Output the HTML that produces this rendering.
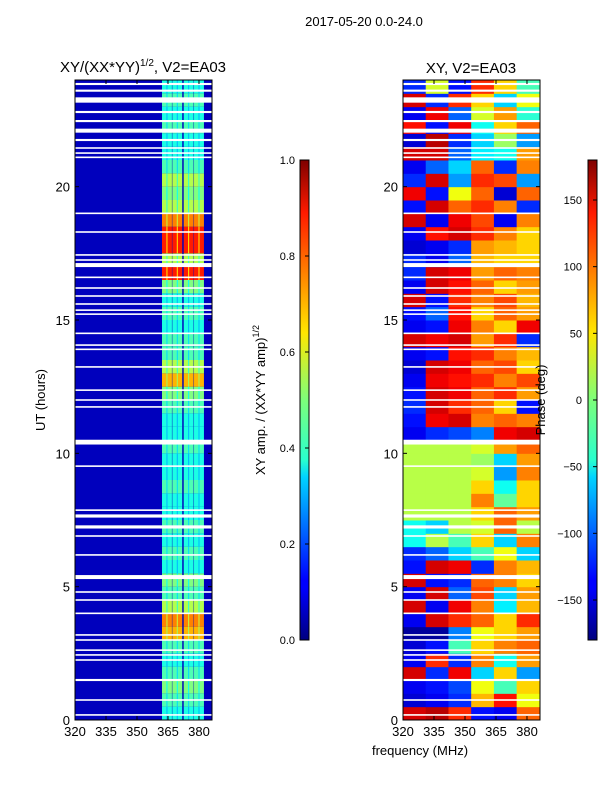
<!DOCTYPE html>
<html><head><meta charset="utf-8"><style>
body{margin:0;background:#fff;}
svg text{font-family:"Liberation Sans","DejaVu Sans",sans-serif;fill:#000;}
</style></head><body>
<svg id="fig" width="600" height="800" viewBox="0 0 600 800" xmlns="http://www.w3.org/2000/svg">
<defs>
<linearGradient id="jet" x1="0" y1="1" x2="0" y2="0">
<stop offset="0" stop-color="#00007f"/><stop offset="0.11" stop-color="#0000ff"/><stop offset="0.125" stop-color="#0000ff"/><stop offset="0.34" stop-color="#00d4ff"/><stop offset="0.375" stop-color="#29ffce"/><stop offset="0.5" stop-color="#7dff7a"/><stop offset="0.64" stop-color="#ffe600"/><stop offset="0.66" stop-color="#ffd700"/><stop offset="0.89" stop-color="#ff1a00"/><stop offset="1" stop-color="#7f0000"/>
</linearGradient>
</defs>
<text x="364" y="26" font-size="13" text-anchor="middle">2017-05-20 0.0-24.0</text>
<text x="143" y="72" font-size="15" text-anchor="middle">XY/(XX*YY)<tspan font-size="10" dy="-6">1/2</tspan><tspan dy="6">, V2=EA03</tspan></text>
<text x="471" y="73" font-size="15" text-anchor="middle">XY, V2=EA03</text>
<g id="left"></g>
<g id="right"></g>
<g id="axes"></g>
<text x="45" y="400" font-size="13" text-anchor="middle" transform="rotate(-90 45 400)">UT (hours)</text>
<text x="420" y="755" font-size="13" text-anchor="middle">frequency (MHz)</text>
<rect x="300" y="160" width="9" height="480" fill="url(#jet)" stroke="#000" stroke-width="1"/>
<rect x="588" y="160" width="9" height="480" fill="url(#jet)" stroke="#000" stroke-width="1"/>
<text x="265" y="400" font-size="13" text-anchor="middle" transform="rotate(-90 265 400)">XY amp. / (XX*YY amp)<tspan font-size="9" dy="-6">1/2</tspan></text>
<text x="545" y="400" font-size="13" text-anchor="middle" transform="rotate(-90 545 400)">Phase (deg)</text>
<g id="cb"></g>
</svg>
<script>
const NS="http://www.w3.org/2000/svg";
// amplitude stripes (MHz centers), half-hour bins from 0h upward
const stripeCenters=[364.5,369.5,375,380];
const stripeAmp=[0.4,0.45,0.5,0.45,0.4,0.45,0.7,0.75,0.55,0.45,0.5,0.4,0.45,0.4,0.45,0.4,0.4,0.45,0.4,0.4,0.45,0.4,0.4,0.45,0.5,0.7,0.55,0.45,0.45,0.4,0.45,0.4,0.5,0.85,0.55,0.85,0.85,0.75,0.55,0.5,0.55,0.45,0.4,0.4,0.45,0.4,0.45,0.4];
const bgAmp=0.06;
// phase grid, rows 0h upward (half hours), 6 freq columns
const phaseCols=[320,331,342,353,364,375,386];
const phase=[
[150,160,120,-130,-140,100],[-150,-140,-120,70,130,40],[-140,-130,-110,40,-20,60],[150,-120,140,-60,60,-80],
[-140,120,-120,90,-40,80],[-150,-130,-20,60,90,100],[-170,-170,-90,40,60,80],[-140,150,120,100,60,120],
[150,-140,140,90,-50,70],[-140,150,-100,110,-60,80],[150,-130,-120,100,90,60],[-130,150,140,-120,90,70],
[-120,-100,-60,-20,40,-60],[-40,20,-20,60,-60,90],[-40,-60,20,30,100,20],[20,20,20,60,100,80],
[20,20,20,90,-10,60],[20,20,20,60,-40,60],[20,20,20,30,-80,90],[20,20,20,10,-60,80],
[20,20,20,30,80,100],[-140,-120,-110,-90,140,150],[-130,140,150,90,100,90],[-120,150,120,100,60,-130],
[-130,150,140,100,120,80],[-140,140,130,120,90,110],[-150,150,140,100,110,60],[-140,-130,130,120,90,70],
[150,140,150,80,120,-120],[-140,-130,140,90,60,140],[-130,-100,130,60,100,80],[150,-130,120,90,110,70],
[-140,150,130,100,60,80],[-120,150,140,80,100,90],[-120,-140,-100,70,60,60],[-150,-140,-120,80,70,60],
[-140,130,150,120,90,60],[150,-140,140,110,-140,90],[-130,150,100,120,90,-120],[140,-130,40,100,-150,100],
[-120,150,-80,120,110,-80],[-140,-100,-60,100,-120,90],[150,150,-100,-50,-40,80],[-150,160,-120,-60,10,-80],
[130,-130,140,-40,60,100],[-140,140,-100,30,80,-30],[150,-120,120,60,-60,40],[-120,30,-130,120,60,-20]];
// flagged (blank) time ranges [hour, width]
const blanks=[[23.85,.08],[23.6,.08],[23.25,.2],[22.8,.08],[22.46,.08],[22.1,.15],[21.75,.08],[21.45,.06],[21.26,.06],[21.1,.06],[19.0,.06],[18.3,.06],[17.44,.06],[17.25,.06],[17.06,.15],[16.6,.06],[16.2,.06],[15.9,.06],[15.6,.06],[15.37,.06],[15.22,.06],[14.5,.06],[14.06,.06],[13.9,.06],[13.24,.06],[12.37,.06],[12.0,.06],[11.74,.06],[10.42,.18],[9.52,.06],[7.87,.06],[7.65,.12],[7.24,.12],[6.9,.06],[6.19,.06],[5.36,.15],[4.8,.06],[4.5,.06],[4.0,.06],[3.19,.06],[3.0,.06],[2.62,.06],[2.44,.06],[2.25,.06],[1.5,.08],[0.75,.06],[0.19,.06]];
const xTicks=[320,335,350,365,380];
const yTicks=[0,5,10,15,20];
const ampTicks=[0.0,0.2,0.4,0.6,0.8,1.0];
const phaseTicks=[-150,-100,-50,0,50,100,150];

function jet(v){v=Math.max(0,Math.min(1,v));
 const r=Math.max(0,Math.min(1,1.5-Math.abs(4*v-3))),g=Math.max(0,Math.min(1,1.5-Math.abs(4*v-2))),b=Math.max(0,Math.min(1,1.5-Math.abs(4*v-1)));
 return `rgb(${Math.round(r*255)},${Math.round(g*255)},${Math.round(b*255)})`;}
const L={x0:75,x1:212},R={x0:403,x1:540},Y0=720,Y1=80,F0=320,F1=386.3;
function xs(p,f){return p.x0+(f-F0)/(F1-F0)*(p.x1-p.x0);}
function ys(h){return Y0-h/24*(Y0-Y1);}
function rect(g,x,y,w,h,fill,name){const r=document.createElementNS(NS,'rect');
 r.setAttribute('x',x);r.setAttribute('y',y);r.setAttribute('width',w);r.setAttribute('height',h);r.setAttribute('fill',fill);
 
 
 g.appendChild(r);return r;}
const gl=document.getElementById('left'),gr=document.getElementById('right');
rect(gl,L.x0,Y1,L.x1-L.x0,Y0-Y1,jet(bgAmp),'amp-background');
stripeAmp.forEach((a,i)=>{const yT=ys((i+1)/2),yB=ys(i/2);
 stripeCenters.forEach((c,k)=>{const xa=xs(L,c-2.4),xb=xs(L,c+2.4);
  rect(gl,xa,yT,xb-xa,yB-yT,jet(a),'amp-cell');
  const xm=xs(L,c);rect(gl,xm-0.5,yT,1,yB-yT,jet(a*0.75),'amp-cell-core');});});
phase.forEach((row,i)=>{const yT=ys((i+1)/2),yB=ys(i/2);
 row.forEach((p,k)=>{const xa=xs(R,phaseCols[k]),xb=Math.min(R.x1,xs(R,phaseCols[k+1]));
  rect(gr,xa,yT,xb-xa+0.5,yB-yT+0.5,jet((p+180)/360),'phase-cell');});});
[[gl,L],[gr,R]].forEach(([g,p])=>blanks.forEach(b=>{const yT=ys(b[0]+b[1]/2),yB=ys(b[0]-b[1]/2);
 rect(g,p.x0,yT,p.x1-p.x0,Math.max(1.5,yB-yT),'#fff','flagged-row');}));
const ax=document.getElementById('axes');
function line(g,x1,y1,x2,y2,name){const l=document.createElementNS(NS,'line');
 l.setAttribute('x1',x1);l.setAttribute('y1',y1);l.setAttribute('x2',x2);l.setAttribute('y2',y2);l.setAttribute('stroke','#000');l.setAttribute('stroke-width','1');
 
 
 g.appendChild(l);}
function text(g,x,y,s,anchor,name,size){const t=document.createElementNS(NS,'text');
 t.setAttribute('x',x);t.setAttribute('y',y);t.setAttribute('text-anchor',anchor);t.setAttribute('font-size',size||13);t.textContent=s;
 
 
 g.appendChild(t);}
[L,R].forEach(p=>{const f=document.createElementNS(NS,'rect');
 f.setAttribute('x',p.x0);f.setAttribute('y',Y1);f.setAttribute('width',p.x1-p.x0);f.setAttribute('height',Y0-Y1);f.setAttribute('fill','none');f.setAttribute('stroke','#000');
 
 
 ax.appendChild(f);
 xTicks.forEach(v=>{const x=xs(p,v);line(ax,x,Y0,x,Y0-4,'x-tick');line(ax,x,Y1,x,Y1+4,'x-tick');text(ax,x,736,String(v),'middle','x-tick-label');});
 yTicks.forEach(v=>{const y=ys(v);line(ax,p.x0,y,p.x0+4,y,'y-tick');line(ax,p.x1,y,p.x1-4,y,'y-tick');text(ax,p.x0-5,y+5,String(v),'end','y-tick-label');});});
const cb=document.getElementById('cb');
ampTicks.forEach(v=>{const y=640-v*480;line(cb,305,y,309,y,'amp-colorbar-tick');text(cb,295,y+4,v.toFixed(1),'end','amp-colorbar-tick-label',11);});
phaseTicks.forEach(v=>{const y=400-v/180*240;line(cb,593,y,597,y,'phase-colorbar-tick');text(cb,582,y+4,String(v).replace('-','\u2212'),'end','phase-colorbar-tick-label',11);});
</script>
</body></html>
